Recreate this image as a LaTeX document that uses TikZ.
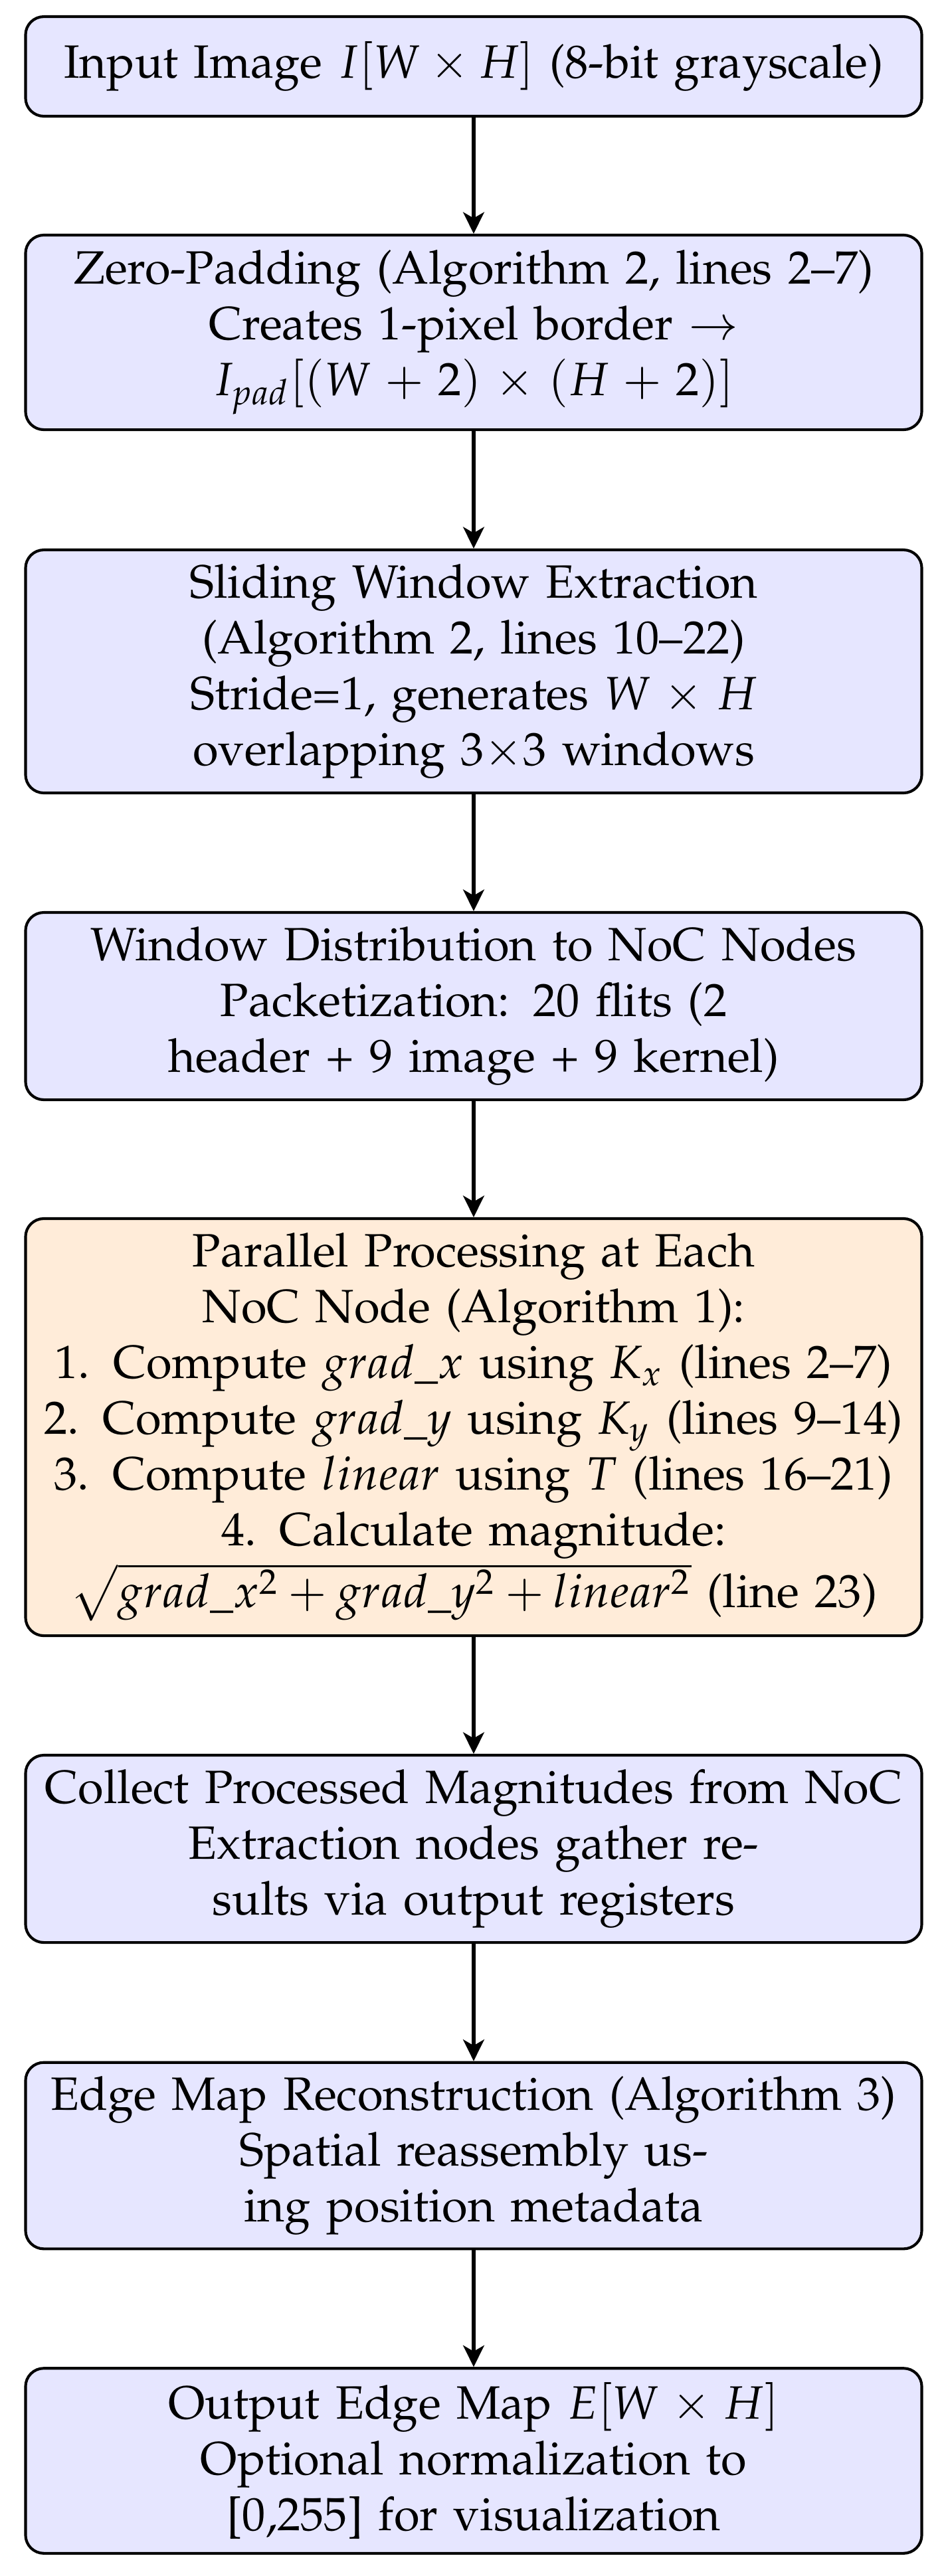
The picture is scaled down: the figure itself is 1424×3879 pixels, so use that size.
\documentclass[tikz,border=0pt]{standalone}
\usepackage[T1]{fontenc}
\usepackage{mathpazo}
\usetikzlibrary{arrows.meta}
\definecolor{boxblue}{RGB}{230,230,255}
\definecolor{boxorange}{RGB}{255,236,217}
\begin{document}
\begin{tikzpicture}[x=0.14535pt,y=-0.14535pt,
  stepbox/.style={draw=black, semithick, rounded corners=4pt, fill=boxblue,
    align=center, text width=191pt, minimum width=196.1pt, inner xsep=2.5pt, inner ysep=3pt,
    font=\fontsize{10.22}{12.2}\selectfont},
  procbox/.style={stepbox, fill=boxorange},
  flow/.style={-{Stealth[length=4.7pt,width=4.6pt,inset=1.3pt]}, thick}]
\useasboundingbox (0,0) rectangle (1424,3879);
\node[stepbox, minimum height=21.8pt] (n1) at (713,100)
  {Input Image $I[W \times H]$ (8-bit grayscale)};
\node[stepbox, minimum height=42.6pt] (n2) at (713,500.5)
  {Zero-Padding (Algorithm 2, lines 2--7)\\
   Creates 1-pixel border $\rightarrow$\\
   $I_{pad}[(W+2) \times (H+2)]$};
\node[stepbox, minimum height=53.2pt] (n3) at (713,1011)
  {Sliding Window Extraction\\
   (Algorithm 2, lines 10--22)\\
   Stride=1, generates $W \times H$\\
   overlapping 3$\times$3 windows};
\node[stepbox, minimum height=41.0pt] (n4) at (713,1515)
  {Window Distribution to NoC Nodes\\
   Packetization: 20 flits (2\\
   header + 9 image + 9 kernel)};
\node[procbox, minimum height=91.3pt] (n5) at (713,2149)
  {Parallel Processing at Each\\
   NoC Node (Algorithm 1):\\
   1. Compute $grad\_x$ using $K_x$ (lines 2--7)\\
   2. Compute $grad\_y$ using $K_y$ (lines 9--14)\\
   3. Compute $linear$ using $T$ (lines 16--21)\\
   4. Calculate magnitude:\\
   $\sqrt{grad\_x^2 + grad\_y^2 + linear^2}$ (line 23)};
\node[stepbox, minimum height=41.0pt] (n6) at (713,2784)
  {Collect Processed Magnitudes from NoC\\
   Extraction nodes gather re-\\
   sults via output registers};
\node[stepbox, minimum height=40.8pt] (n7) at (713,3246)
  {Edge Map Reconstruction (Algorithm 3)\\
   Spatial reassembly us-\\
   ing position metadata};
\node[stepbox, minimum height=40.5pt] (n8) at (713,3705.5)
  {Output Edge Map $E[W \times H]$\\
   Optional normalization to\\{}
   [0,255] for visualization};
\draw[flow] (n1) -- (n2);
\draw[flow] (n2) -- (n3);
\draw[flow] (n3) -- (n4);
\draw[flow] (n4) -- (n5);
\draw[flow] (n5) -- (n6);
\draw[flow] (n6) -- (n7);
\draw[flow] (n7) -- (n8);
\end{tikzpicture}
\end{document}
